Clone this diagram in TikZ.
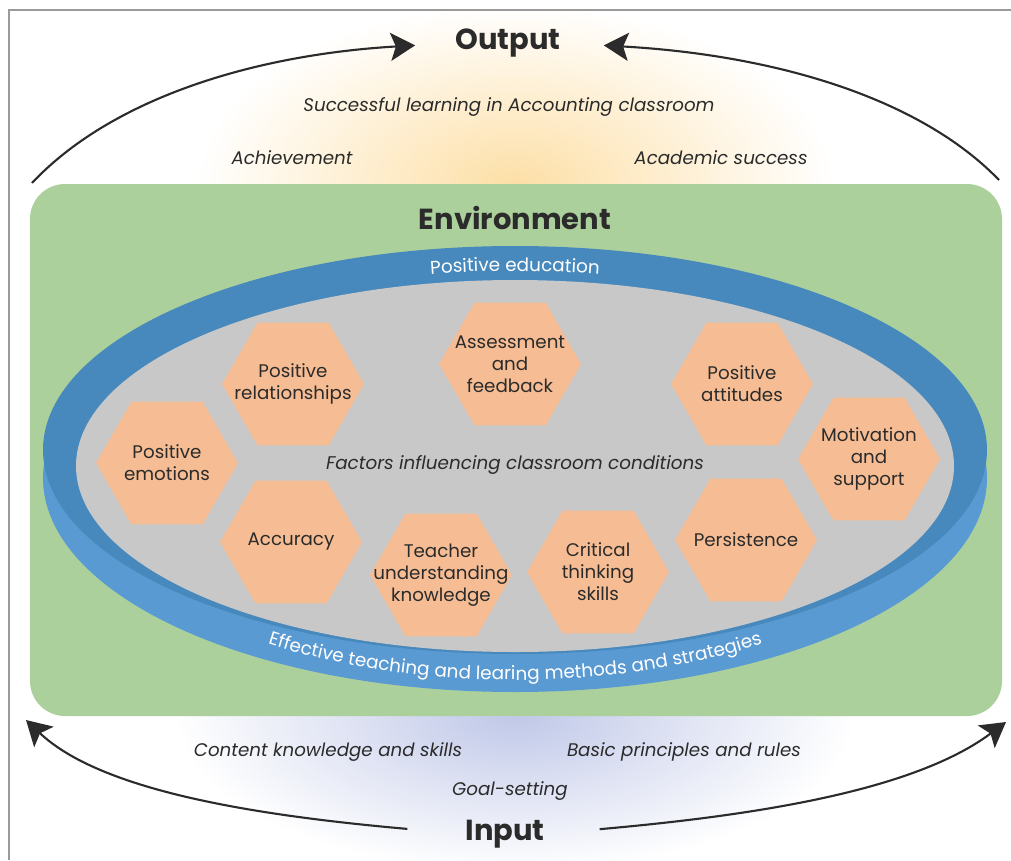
\documentclass[tikz,border=0pt]{standalone}
\usepackage{fontspec}
\setmainfont{Poppins}
\usepackage{tikz}
\usetikzlibrary{shapes.geometric,arrows.meta,decorations.text}

\definecolor{envgreen}{HTML}{ACD09C}
\definecolor{ringdark}{HTML}{4789BD}
\definecolor{ringlight}{HTML}{5A9AD2}
\definecolor{innergray}{HTML}{C8C8C8}
\definecolor{hexfill}{HTML}{F6BD94}
\definecolor{textdark}{HTML}{2B2B2B}
\definecolor{gloworange}{HTML}{FDDFA6}
\definecolor{glowblue}{HTML}{C0C8E8}
\definecolor{framegray}{HTML}{9A9A9A}

\newcommand{\bandfont}{\fontsize{10.5}{12}\selectfont}

\begin{document}
\begin{tikzpicture}[x=0.02cm, y=-0.02cm,
    hexa/.style={regular polygon, regular polygon sides=6, minimum size=2.84cm, inner sep=0pt, fill=hexfill},
    hextext/.style={align=center, text=textdark, font=\fontsize{10.4}{12.5}\selectfont},
    head/.style={font=\bfseries\fontsize{16.5}{18}\selectfont, text=textdark, inner sep=0pt},
    note/.style={font=\itshape\fontsize{10.4}{12}\selectfont, text=textdark},
    bigarrow/.style={-{Stealth[length=14pt, width=16pt, inset=3pt]}, line width=1.2pt, draw=textdark}]

  \useasboundingbox (0,0) rectangle (1011,860);

  % soft glows behind
  \shade[inner color=gloworange, outer color=white] (515,185) ellipse [x radius=320, y radius=180];
  \shade[inner color=glowblue, outer color=white] (515,716) ellipse [x radius=340, y radius=155];

  % frame
  \draw[framegray, line width=0.6pt] (9,860) -- (9,10) -- (1011,10);

  % environment box
  \fill[envgreen, rounded corners=0.7cm] (30,184) rectangle (1002,716);
  \node[head] (ENV) at (515,218) {Environment};

  % disk
  \fill[ringlight] (515,478) ellipse [x radius=472, y radius=214];
  \fill[ringdark] (515,450) ellipse [x radius=472, y radius=204];
  \fill[innergray] (515,466) ellipse [x radius=439, y radius=186];

  \path[decorate, decoration={text along path, text align=center, text color=white,
      text={|\bandfont|Positive education}}]
    (515,450) ++(235:455 and 179) arc[start angle=235, end angle=305, x radius=455, y radius=179];
  \path[decorate, decoration={text along path, text align=center, text color=white,
      text={|\bandfont|Effective teaching and learing methods and strategies}}]
    (515,470) ++(132:440 and 210) arc[start angle=132, end angle=48, x radius=440, y radius=210];

  % factors
  \node[note, font=\itshape\fontsize{10.45}{12}\selectfont] (FACTORS) at (515,465) {Factors influencing classroom conditions};

  \node[hexa, label={[hextext]center:Positive\\emotions}] (EMO) at (167,463) {};
  \node[hexa, label={[hextext]center:Positive\\relationships}] (REL) at (293,384) {};
  \node[hexa, label={[hextext]center:Assessment\\and\\feedback}] (ASSESS) at (510,364) {};
  \node[hexa, label={[hextext]center:Positive\\attitudes}] (ATT) at (742,384) {};
  \node[hexa, label={[hextext]center:Motivation\\and\\support}] (MOTIV) at (869,459) {};
  \node[hexa, label={[hextext]center:Accuracy}] (ACC) at (291,542) {};
  \node[hexa, label={[hextext]center:Teacher\\understanding\\knowledge}] (TEACH) at (441,575) {};
  \node[hexa, label={[hextext]center:Critical\\thinking\\skills}] (CRIT) at (598,572) {};
  \node[hexa, label={[hextext]center:Persistence}] (PERSIST) at (746,540) {};

  % output side
  \node[head] (OUTPUT) at (508,43) {Output};
  \node[note] (SUCCESS) at (509,107) {Successful learning in Accounting classroom};
  \node[note] (ACHIEVE) at (292,158) {Achievement};
  \node[note] (ACADEMIC) at (721,158) {Academic success};

  % input side
  \node[head] (INPUT) at (505,834) {Input};
  \node[note] (CONTENT) at (328,752) {Content knowledge and skills};
  \node[note] (BASIC) at (684,752) {Basic principles and rules};
  \node[note] (GOAL) at (510,791) {Goal-setting};

  \coordinate (TL) at (32,183);
  \coordinate (TR) at (999,180);
  \coordinate (BL) at (26,720);
  \coordinate (BR) at (1006,722);

  \draw[bigarrow, shorten >=0.8cm] (TL) .. controls (110,100) and (250,55) .. (OUTPUT.west);
  \draw[bigarrow, shorten >=0.86cm] (TR) .. controls (920,98) and (775,55) .. (OUTPUT.east);
  \draw[bigarrow, shorten <=1.16cm] (INPUT.west) .. controls (250,815) and (100,790) .. (BL);
  \draw[bigarrow, shorten <=1.1cm] (INPUT.east) .. controls (760,815) and (915,790) .. (BR);
\end{tikzpicture}
\end{document}
